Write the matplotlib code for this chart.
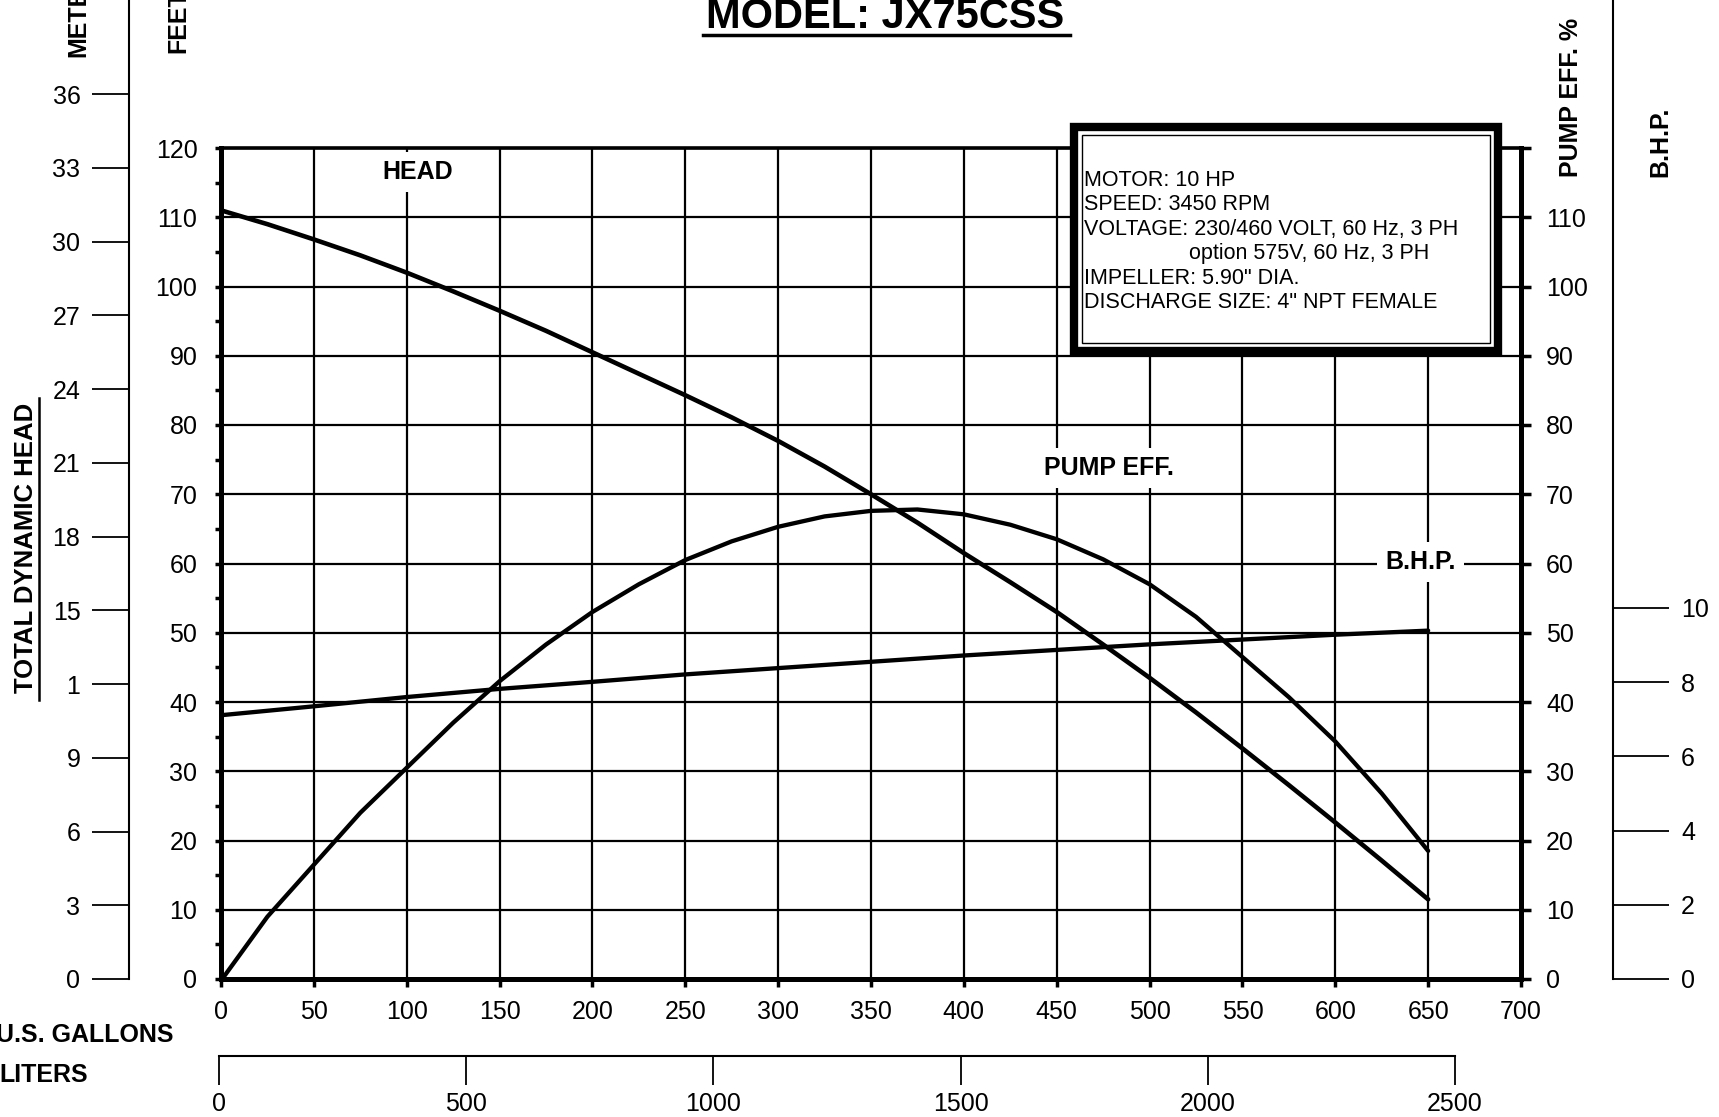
import numpy as np
import matplotlib.pyplot as plt
from matplotlib.patches import Rectangle
from matplotlib.lines import Line2D

plt.rcParams['font.family'] = ['Liberation Sans', 'DejaVu Sans']

# --- data ---
head_gal = [0, 25, 50, 75, 100, 125, 150, 175, 200, 225, 250, 275, 300, 325,
            350, 375, 400, 425, 450, 475, 500, 525, 550, 575, 600, 625, 650]
head_ft = [111.0, 109.0, 106.8, 104.5, 102.0, 99.3, 96.5, 93.6, 90.5, 87.4, 84.3,
           81.1, 77.7, 74.0, 70.0, 65.9, 61.5, 57.3, 53.0, 48.3, 43.5, 38.5,
           33.3, 28.0, 22.6, 17.1, 11.5]

eff_gal = [2, 25, 50, 75, 100, 125, 150, 175, 200, 225, 250, 275, 300, 325, 350,
           375, 400, 425, 450, 475, 500, 525, 550, 575, 600, 625, 650]
eff_pct = [0.5, 9.0, 16.5, 24.0, 30.5, 37.0, 43.0, 48.3, 53.0, 57.0, 60.5, 63.2,
           65.3, 66.8, 67.6, 67.8, 67.1, 65.6, 63.5, 60.6, 57.0, 52.3, 46.5, 40.7,
           34.3, 26.8, 18.5]

bhp_gal = [0, 50, 100, 150, 200, 250, 300, 350, 400, 450, 500, 550, 600, 650]
bhp_hp = [7.11, 7.35, 7.60, 7.82, 8.01, 8.21, 8.38, 8.55, 8.72, 8.87, 9.02, 9.15, 9.28, 9.39]

gal_ticks = list(range(0, 701, 50))
ft_ticks = list(range(0, 121, 10))
eff_labels = [str(v) for v in range(0, 111, 10)] + [""]
meter_ticks = [0, 3, 6, 9, 12, 15, 18, 21, 24, 27, 30, 33, 36]
meter_labels = ["0", "3", "6", "9", "1", "15", "18", "21", "24", "27", "30", "33", "36"]
bhp_ticks = [0, 2, 4, 6, 8, 10]
liter_ticks = [0, 500, 1000, 1500, 2000, 2500]

spec_lines = [
    "MOTOR: 10 HP",
    "SPEED: 3450 RPM",
    "VOLTAGE: 230/460 VOLT, 60 Hz, 3 PH",
    "option 575V, 60 Hz, 3 PH",
    "IMPELLER: 5.90\" DIA.",
    "DISCHARGE SIZE: 4\" NPT FEMALE",
]

W, H = 1719, 1117


def fx(px):
    return px / W


def fy(py):
    return 1 - py / H


def rect(l, t, r, b):
    return [fx(l), fy(b), fx(r) - fx(l), fy(t) - fy(b)]


fig = plt.figure(figsize=(W / 100, H / 100), dpi=100)

# main chart (feet / % vs gallons)
ax = fig.add_axes(rect(221, 148, 1521, 979))
ax.set_xlim(0, 700)
ax.set_ylim(0, 120)
ax.set_xticks(gal_ticks)
ax.set_yticks(ft_ticks)
ax.set_yticks(range(5, 120, 10), minor=True)
ax.grid(True, which='major', color='black', lw=1.6)
for side in ['left', 'bottom', 'right']:
    ax.spines[side].set_linewidth(3.6)
ax.spines['top'].set_linewidth(2.6)
ax.tick_params(axis='x', which='major', direction='out', length=6, width=2.5,
               labelsize=18, pad=9)
ax.tick_params(axis='y', which='both', direction='out', length=4, width=2.5,
               labelsize=18, pad=13)

ax.plot(head_gal, head_ft, color='black', lw=3.3, solid_capstyle='round',
        solid_joinstyle='round', zorder=4)
ax.plot(eff_gal, eff_pct, color='black', lw=3.1, solid_capstyle='round',
        solid_joinstyle='round', zorder=4)

lab = dict(fontsize=18, fontweight='bold', ha='center', va='center', zorder=3,
           bbox=dict(facecolor='white', edgecolor='none', pad=6))
ax.text(106, 116.5, "HEAD", **lab)
ax.text(478, 73.8, "PUMP EFF.", **lab)
ax.text(646, 60.2, "B.H.P.", **lab)

# right-hand pump efficiency scale
ax_e = ax.twinx()
ax_e.set_ylim(0, 120)
ax_e.set_yticks(ft_ticks)
ax_e.set_yticklabels(eff_labels)
ax_e.tick_params(axis='y', direction='out', length=7, width=2.5, labelsize=18, pad=11)
for s in ax_e.spines.values():
    s.set_visible(False)

# B.H.P. curve on its own scale
ax_b = ax.twinx()
ax_b.set_ylim(0, (979 - 148) / 37.1)
ax_b.plot(bhp_gal, bhp_hp, color='black', lw=3.1, solid_capstyle='round')
ax_b.set_yticks([])
for s in ax_b.spines.values():
    s.set_visible(False)

# meters scale
ax_m = fig.add_axes(rect(129, 0, 131, 979))
ax_m.set_ylim(0, 979 / 24.58)
ax_m.set_yticks(meter_ticks)
ax_m.set_yticklabels(meter_labels)
ax_m.set_xticks([])
ax_m.patch.set_visible(False)
for side in ['right', 'top', 'bottom']:
    ax_m.spines[side].set_visible(False)
ax_m.spines['left'].set_linewidth(1.5)
ax_m.tick_params(axis='y', direction='out', length=27, width=1.3, labelsize=18, pad=8)

# B.H.P. scale
ax_bs = fig.add_axes(rect(1611, 0, 1613, 979))
ax_bs.set_ylim(0, 979 / 37.1)
ax_bs.set_yticks(bhp_ticks)
ax_bs.yaxis.tick_right()
ax_bs.set_xticks([])
ax_bs.patch.set_visible(False)
for side in ['left', 'top', 'bottom']:
    ax_bs.spines[side].set_visible(False)
ax_bs.spines['right'].set_linewidth(1.5)
ax_bs.tick_params(axis='y', direction='out', length=40, width=1.3, labelsize=18, pad=9)

# liters scale
ax_l = fig.add_axes(rect(219, 1054, 1455, 1056))
ax_l.set_xlim(0, 2500)
ax_l.set_xticks(liter_ticks)
ax_l.set_yticks([])
ax_l.patch.set_visible(False)
for side in ['left', 'top', 'right']:
    ax_l.spines[side].set_visible(False)
ax_l.spines['bottom'].set_linewidth(1.5)
ax_l.tick_params(axis='x', direction='out', length=21, width=1.3, labelsize=18, pad=5)

# spec box
fig.add_artist(Rectangle((fx(1074), fy(351)), fx(1498) - fx(1074), fy(127) - fy(351),
                         transform=fig.transFigure, facecolor='white',
                         edgecolor='black', lw=6))
fig.add_artist(Rectangle((fx(1082), fy(343)), fx(1490) - fx(1082), fy(135) - fy(343),
                         transform=fig.transFigure, fill=False,
                         edgecolor='black', lw=1.0))
ys = [180, 204, 229, 253, 278, 302]
for i, line in enumerate(spec_lines):
    x0 = 1189 if i == 3 else 1084
    fig.text(fx(x0), fy(ys[i]), line, fontsize=15.5, ha='left', va='center')

# titles and axis names
fig.text(fx(885), fy(28), "MODEL: JX75CSS", fontsize=30, fontweight='bold',
         ha='center', va='baseline')
fig.add_artist(Line2D([fx(703), fx(1070)], [fy(35), fy(35)], color='black', lw=2.5))

fig.text(fx(78), fy(57), "METERS", fontsize=18, fontweight='bold', rotation=90,
         ha='center', va='bottom')
fig.text(fx(178), fy(53), "FEET", fontsize=18, fontweight='bold', rotation=90,
         ha='center', va='bottom')
fig.text(fx(26), fy(548), "TOTAL DYNAMIC HEAD", fontsize=18.5, fontweight='bold',
         rotation=90, ha='center', va='center')
fig.add_artist(Line2D([fx(39), fx(39)], [fy(398), fy(700)], color='black', lw=1.8))
fig.text(fx(1571), fy(177), "PUMP EFF. %", fontsize=18, fontweight='bold',
         rotation=90, ha='center', va='bottom')
fig.text(fx(1660), fy(177), "B.H.P.", fontsize=18, fontweight='bold',
         rotation=90, ha='center', va='bottom')

fig.text(fx(-4), fy(1035), "U.S. GALLONS", fontsize=18, fontweight='bold',
         ha='left', va='center')
fig.text(fx(-1), fy(1075), "LITERS", fontsize=18, fontweight='bold',
         ha='left', va='center')

fig.savefig('out.png', dpi=100)
